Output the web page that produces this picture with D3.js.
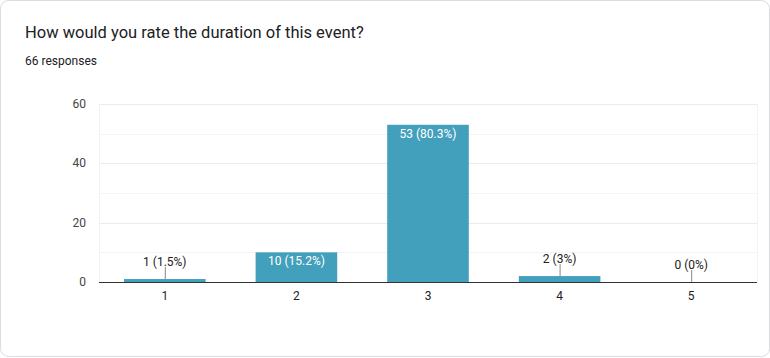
<!DOCTYPE html>
<html><head><meta charset="utf-8">
<script src="https://cdn.jsdelivr.net/npm/d3@7"></script>
<style>
html,body{margin:0;padding:0;background:#fff;}
svg{display:block;font-family:Roboto,Arial,sans-serif;}
</style></head>
<body>
<svg id="chart" width="770" height="358"></svg>
<script>
const title = "How would you rate the duration of this event?";
const subtitle = "66 responses";
const categories = ["1", "2", "3", "4", "5"];
const counts = [1, 10, 53, 2, 0];
const percents = ["1.5%", "15.2%", "80.3%", "3%", "0%"];
const yTicks = [0, 20, 40, 60];
const yGrid = [10, 20, 30, 40, 50, 60];

(function () {
const svg = d3.select("#chart");
svg.append("rect").attr("x", 0.5).attr("y", 0.5).attr("width", 769).attr("height", 356)
  .attr("rx", 8).attr("fill", "#fff").attr("stroke", "#dadce0");

svg.append("text").attr("x", 25).attr("y", 38).attr("font-size", 16.5).attr("fill", "#202124").text(title);
svg.append("text").attr("x", 25).attr("y", 65).attr("font-size", 12).attr("fill", "#202124").text(subtitle);

const pLeft = 99, pRight = 757, pTop = 104, pBottom = 282;
const x = d3.scaleBand().domain(categories).range([pLeft, pRight]).paddingInner(0.38).paddingOuter(0.19);
const y = d3.scaleLinear().domain([0, 60]).range([pBottom, pTop]);

// grid
svg.append("g").selectAll("line").data(yGrid).join("line")
  .attr("x1", pLeft).attr("x2", pRight).attr("y1", d => Math.round(y(d)) + 0.5).attr("y2", d => Math.round(y(d)) + 0.5)
  .attr("stroke", d => d % 20 === 0 ? "#ebebeb" : "#f3f3f3");
[pLeft, pRight].forEach(xx => svg.append("line").attr("x1", xx + 0.5).attr("x2", xx + 0.5).attr("y1", pTop).attr("y2", pBottom).attr("stroke", "#f3f3f3"));

// y labels
svg.append("g").selectAll("text").data(yTicks).join("text")
  .attr("x", 86).attr("y", d => y(d) + 4).attr("text-anchor", "end").attr("font-size", 12).attr("fill", "#444")
  .text(d => d);

// bars
const data = categories.map((c, i) => ({c, v: counts[i], p: percents[i]}));
svg.append("g").selectAll("rect").data(data).join("rect")
  .attr("x", d => x(d.c)).attr("width", x.bandwidth())
  .attr("y", d => y(d.v)).attr("height", d => y(0) - y(d.v))
  .attr("fill", "#43a0bc");

// baseline
svg.append("line").attr("x1", pLeft).attr("x2", pRight).attr("y1", pBottom + 0.5).attr("y2", pBottom + 0.5)
  .attr("stroke", "#333").attr("stroke-width", 1.2);

// x labels
svg.append("g").selectAll("text").data(categories).join("text")
  .attr("x", d => x(d) + x.bandwidth() / 2).attr("y", 300).attr("text-anchor", "middle")
  .attr("font-size", 12).attr("fill", "#222").text(d => d);

// value labels
const inside = d => (y(0) - y(d.v)) > 20;
const lg = svg.append("g");
data.forEach(d => {
  const cx = x(d.c) + x.bandwidth() / 2;
  const t = y(d.v);
  const label = `${d.v} (${d.p})`;
  if (inside(d)) {
    lg.append("text").attr("x", cx).attr("y", t + 13).attr("text-anchor", "middle")
      .attr("font-size", 12).attr("fill", "#fff").text(label);
  } else {
    lg.append("line").attr("x1", cx + 0.5).attr("x2", cx + 0.5).attr("y1", t - 12).attr("y2", t)
      .attr("stroke", "#888");
    lg.append("text").attr("x", cx).attr("y", t - 13).attr("text-anchor", "middle")
      .attr("font-size", 12).attr("fill", "#222").text(label);
  }
});
})();
</script>
</body></html>
